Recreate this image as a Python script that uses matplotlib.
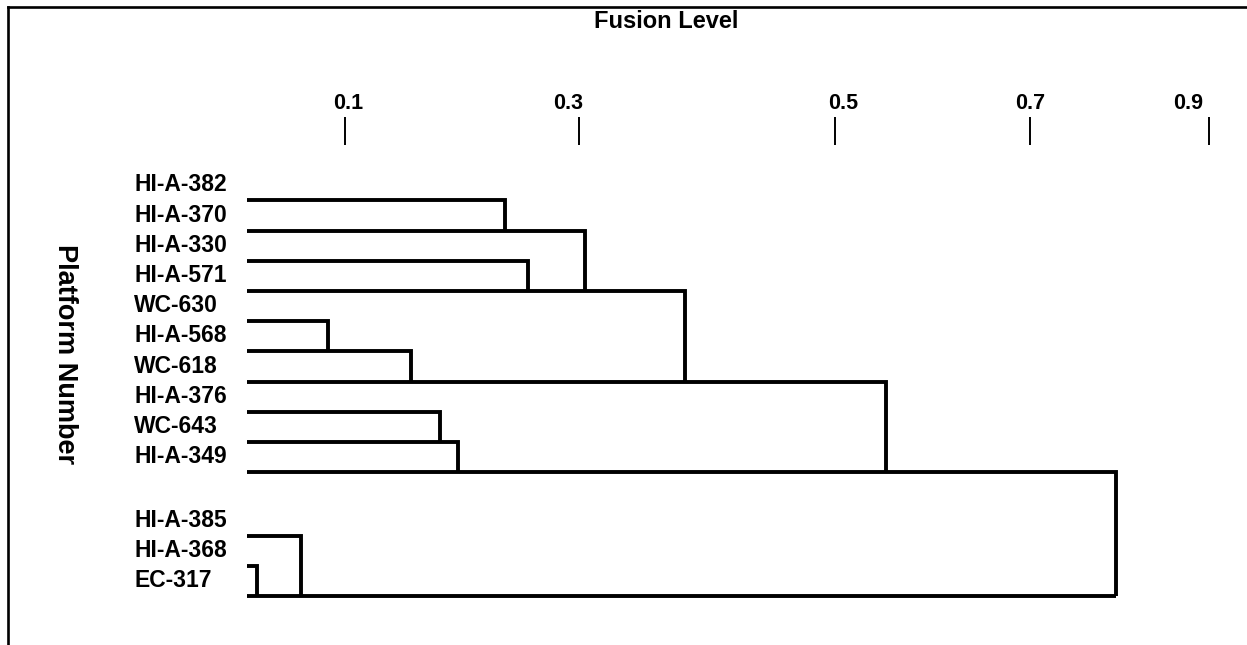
import numpy as np
import matplotlib
matplotlib.use("Agg")
import matplotlib.pyplot as plt
import matplotlib.transforms as mtransforms

plt.rcParams['font.family'] = ['Liberation Sans', 'DejaVu Sans']
plt.rcParams['font.weight'] = 'bold'

# ---------------- data ----------------
leaf_labels = ["HI-A-382", "HI-A-370", "HI-A-330", "HI-A-571", "WC-630",
               "HI-A-568", "WC-618", "HI-A-376", "WC-643", "HI-A-349",
               "HI-A-385", "HI-A-368", "EC-317"]
# each merge: horizontal line `upper` ends at `level` and drops to line `lower`
merge_upper = [0, 1, 2, 3, 4, 5, 6, 7, 8, 9, 10, 11]
merge_lower = [1, 3, 3, 6, 5, 6, 9, 8, 9, 12, 12, 12]
merge_level = [0.237, 0.305, 0.256, 0.383, 0.083, 0.156, 0.552,
               0.181, 0.197, 0.796, 0.055, 0.010]
root_level = 0.796
tick_values = [0.1, 0.3, 0.5, 0.7, 0.9]
tick_labels = ["0.1", "0.3", "0.5", "0.7", "0.9"]

# ---------------- layout ----------------
W, H = 1247, 645
# irregular fusion-level axis as printed in the original (piecewise-linear)
knot_vals = np.array([-1.0, 0.0, 0.1, 0.3, 0.5, 0.7, 0.9, 2.0])
knot_pos = np.array([247 - 980, 247, 345, 579, 835, 1030, 1209, 1209 + 895 * 1.1])

def fwd(v):
    return np.interp(v, knot_vals, knot_pos)

def inv(p):
    return np.interp(p, knot_pos, knot_vals)

group_gap = 1.1
leaf_rows = [i if i < 10 else i + group_gap for i in range(len(leaf_labels))]
row0_px, row_px = 200.5, 30.2

fig = plt.figure(figsize=(W / 100, H / 100), dpi=100)
ax_left, ax_top = 8, 7
ax = fig.add_axes([ax_left / W, 0, 1 - ax_left / W, 1 - ax_top / H])
ax.set_xscale('function', functions=(fwd, inv))
ax.set_xlim(inv(ax_left), inv(W))
ax.set_ylim((H - row0_px) / row_px, (ax_top - row0_px) / row_px)

for s in ['right', 'bottom']:
    ax.spines[s].set_visible(False)
for s in ['top', 'left']:
    ax.spines[s].set_linewidth(1.9)
    ax.spines[s].set_color('black')
ax.set_xticks([])
ax.set_yticks([])
ax.xaxis.set_minor_locator(matplotlib.ticker.NullLocator())

# dendrogram
lw = 2.8
for u, l, lev in zip(merge_upper, merge_lower, merge_level):
    yu, yl = leaf_rows[u], leaf_rows[l]
    ax.plot([0, lev, lev], [yu, yu, yl], color='black', lw=lw,
            solid_joinstyle='miter', solid_capstyle='butt')
ax.plot([0, root_level], [leaf_rows[-1], leaf_rows[-1]], color='black', lw=lw,
        solid_capstyle='butt')

# fusion-level ticks
ax.vlines(tick_values, (117 - row0_px) / row_px, (145 - row0_px) / row_px,
          color='black', lw=1.4)
label_dx = [3, -11, 8, 0, -21]
for v, t, dx in zip(tick_values, tick_labels, label_dx):
    tr = ax.transData + mtransforms.ScaledTranslation(dx / 100, 0, fig.dpi_scale_trans)
    ax.text(v, (109 - row0_px) / row_px, t, transform=tr, ha='center',
            va='baseline', fontsize=15.5, fontweight='bold')

# leaf labels
blend = mtransforms.blended_transform_factory(fig.transFigure, ax.transData)
for r, name in zip(leaf_rows, leaf_labels):
    ax.text(134 / W, r - 0.30, name, transform=blend, ha='left',
            va='baseline', fontsize=16.5, fontweight='bold')

fig.text(666 / W, 1 - 28.3 / H, "Fusion Level", ha='center', va='baseline',
         fontsize=17, fontweight='bold')
fig.text(65 / W, 1 - 354 / H, "Platform Number", rotation=270, ha='center',
         va='center', fontsize=19.5, fontweight='bold')

fig.savefig("out.png", dpi=100)
